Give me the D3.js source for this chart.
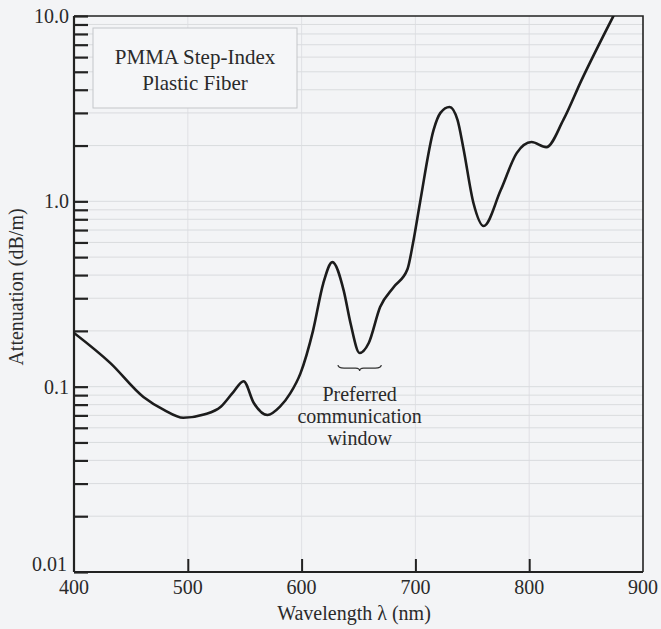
<!DOCTYPE html>
<html>
<head>
<meta charset="utf-8">
<script src="https://cdn.jsdelivr.net/npm/d3@7"></script>
<style>
  body { margin: 0; background: #f3f4f6; }
  svg text { font-family: "Liberation Serif", "DejaVu Serif", serif; fill: #2a2a2a; }
</style>
</head>
<body>
<svg id="chart" width="661" height="629"></svg>
<script>
// attenuation curve (nm, dB/m)
let wavelengths = [400, 432, 461, 479, 496, 515, 529, 540, 549, 558, 570, 581, 590, 599, 610, 619, 627, 637, 643, 651, 659, 669, 681, 693, 698, 704, 716, 722, 730, 737, 742, 751, 760, 775, 789, 802, 815, 830, 846, 874];
let attenuation = [0.195, 0.134, 0.088, 0.075, 0.068, 0.071, 0.078, 0.0935, 0.107, 0.0816, 0.0703, 0.078, 0.092, 0.118, 0.2, 0.36, 0.47, 0.33, 0.22, 0.152, 0.172, 0.269, 0.345, 0.43, 0.6, 0.98, 2.43, 3.0, 3.23, 2.75, 1.96, 0.98, 0.736, 1.15, 1.82, 2.09, 1.96, 2.75, 4.51, 10.0];

let xTicks = [400, 500, 600, 700, 800, 900];
let yMajor = [0.01, 0.1, 1, 10];
let yLabels = ["0.01", "0.1", "1.0", "10.0"];
let legendLines = ["PMMA Step-Index", "Plastic Fiber"];
let noteLines = ["Preferred", "communication", "window"];

let svg = d3.select("#chart");
let margin = { top: 16, right: 18, bottom: 57, left: 74 };
let width = 661 - margin.left - margin.right;
let height = 629 - margin.top - margin.bottom;

let x = d3.scaleLinear().domain([400, 900]).range([0, width]);
let y = d3.scaleLog().domain([0.01, 10]).range([height, 0]);

let g = svg.append("g")
    .attr("transform", "translate(" + margin.left + "," + margin.top + ")");

// minor values 2..9 in every decade
let yMinor = [];
for (let d = 0; d < 3; d++) {
    for (let k = 2; k <= 9; k++) {
        yMinor.push(+(yMajor[d] * k).toPrecision(3));
    }
}

// faint grid
g.append("g").selectAll("line")
    .data(yMinor.concat([0.1, 1]))
    .enter().append("line")
    .attr("x1", 0).attr("x2", width)
    .attr("y1", d => y(d)).attr("y2", d => y(d))
    .attr("stroke", "#d3d5d8")
    .attr("stroke-width", 0.8);

g.append("g").selectAll("line")
    .data([500, 600, 700, 800])
    .enter().append("line")
    .attr("x1", d => x(d)).attr("x2", d => x(d))
    .attr("y1", 0).attr("y2", height)
    .attr("stroke", "#dadcdf")
    .attr("stroke-width", 0.8);

// frame: top and right
g.append("path")
    .attr("d", "M0,0H" + width + "V" + height)
    .attr("fill", "none")
    .attr("stroke", "#222")
    .attr("stroke-width", 1.6);

// left axis with inward ticks
let yAxis = d3.axisRight(y)
    .tickValues(yMinor.concat(yMajor))
    .tickSize(14)
    .tickFormat("");
let ya = g.append("g").call(yAxis);
ya.select(".domain").attr("stroke", "#222").attr("stroke-width", 2.2).attr("d", "M0,0V" + height);
ya.selectAll(".tick line").attr("stroke", "#222").attr("stroke-width", 2.2);

g.append("g").selectAll("text")
    .data(yMajor)
    .enter().append("text")
    .attr("x", d => d === 0.01 ? -7 : -5)
    .attr("y", d => y(d))
    .attr("dy", d => d === 0.01 ? "-0.05em" : "0.35em")
    .attr("text-anchor", "end")
    .style("font-size", "20px")
    .text((d, i) => yLabels[i]);

// bottom axis with inward ticks
let xAxis = d3.axisTop(x)
    .tickValues(xTicks.slice(1, 5))
    .tickSize(13)
    .tickFormat("");
let xa = g.append("g").attr("transform", "translate(0," + height + ")").call(xAxis);
xa.select(".domain").attr("stroke", "#222").attr("stroke-width", 2.2).attr("d", "M0,0H" + width);
xa.selectAll(".tick line").attr("stroke", "#222").attr("stroke-width", 2);

g.append("g").selectAll("text")
    .data(xTicks)
    .enter().append("text")
    .attr("x", d => x(d))
    .attr("y", height + 22)
    .attr("text-anchor", "middle")
    .style("font-size", "20px")
    .text(d => d);

// axis titles
svg.append("text")
    .attr("x", 354)
    .attr("y", 620)
    .attr("text-anchor", "middle")
    .style("font-size", "20px")
    .text("Wavelength  λ  (nm)");

svg.append("text")
    .attr("transform", "translate(23,287) rotate(-90)")
    .attr("text-anchor", "middle")
    .style("font-size", "20px")
    .text("Attenuation  (dB/m)");

// legend box
let lg = g.append("g");
lg.append("rect")
    .attr("x", 19).attr("y", 12)
    .attr("width", 204).attr("height", 80)
    .attr("fill", "#f5f6f8")
    .attr("stroke", "#c4c6c9")
    .attr("stroke-width", 1);
lg.selectAll("text")
    .data(legendLines)
    .enter().append("text")
    .attr("x", 121)
    .attr("y", (d, i) => 48 + i * 26)
    .attr("text-anchor", "middle")
    .style("font-size", "21px")
    .text(d => d);

// curve
let data = wavelengths.map((w, i) => ({ w: w, a: attenuation[i] }));
g.append("clipPath").attr("id", "clip")
    .append("rect").attr("width", width).attr("height", height);

let line = d3.line()
    .x(d => x(d.w))
    .y(d => y(d.a))
    .curve(d3.curveMonotoneX);

g.append("path")
    .datum(data)
    .attr("clip-path", "url(#clip)")
    .attr("fill", "none")
    .attr("stroke", "#1c1c1c")
    .attr("stroke-width", 2.6)
    .attr("stroke-linejoin", "round")
    .attr("stroke-linecap", "round")
    .attr("d", line);

// brace under the preferred window
let bx0 = x(632), bx1 = x(670), by = y(0.126);
let bm = (bx0 + bx1) / 2;
g.append("path")
    .attr("d", "M" + bx0 + "," + (by - 3) + " Q" + bx0 + "," + by + " " + (bx0 + 6) + "," + by +
        " L" + (bm - 4) + "," + by + " Q" + bm + "," + by + " " + bm + "," + (by + 3) +
        " Q" + bm + "," + by + " " + (bm + 4) + "," + by +
        " L" + (bx1 - 6) + "," + by + " Q" + bx1 + "," + by + " " + bx1 + "," + (by - 3))
    .attr("fill", "none")
    .attr("stroke", "#333")
    .attr("stroke-width", 1.2);

g.append("g").selectAll("text")
    .data(noteLines)
    .enter().append("text")
    .attr("x", bm)
    .attr("y", (d, i) => by + 33 + i * 22)
    .attr("text-anchor", "middle")
    .style("font-size", "20px")
    .text(d => d);
</script>
</body>
</html>
